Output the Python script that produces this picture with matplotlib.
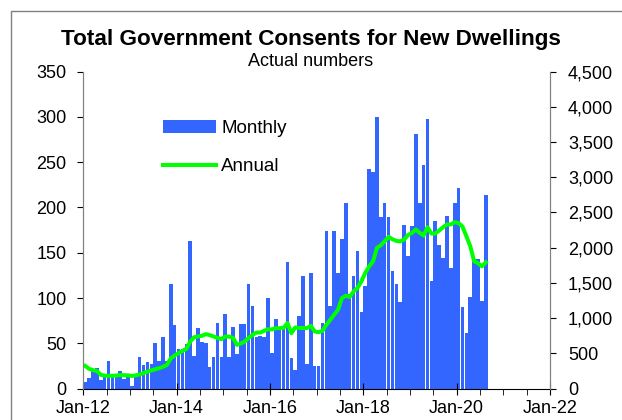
import numpy as np
import matplotlib
matplotlib.use("Agg")
import matplotlib.pyplot as plt
from matplotlib.patches import Rectangle
from matplotlib.ticker import FuncFormatter, MultipleLocator


# ── Data ─────────────────────────────────────────────────────────────────────
# monthly consents, Jan-12 .. Aug-20 (left axis)
monthly = [
    7, 12, 20, 23, 10, 14, 30, 14, 15, 19, 11, 15,
    3, 13, 35, 26, 29, 27, 50, 30, 57, 30, 115, 70,
    44, 44, 49, 163, 36, 67, 51, 50, 24, 35, 72, 35,
    82, 35, 68, 38, 71, 71, 115, 91, 57, 58, 57, 100,
    39, 77, 65, 66, 140, 34, 20, 80, 124, 27, 128, 25,
    25, 72, 174, 91, 174, 128, 165, 205, 104, 124, 152, 85,
    113, 242, 239, 300, 190, 205, 190, 130, 115, 96, 181, 146,
    180, 281, 205, 247, 298, 119, 185, 158, 144, 191, 133, 205,
    221, 90, 61, 101, 143, 143, 97, 214,
]

# annual (rolling 12 month) total, right axis
annual = [
    322, 280, 262, 250, 195, 185, 180, 182, 185, 192, 190, 188,
    180, 188, 200, 220, 240, 258, 275, 290, 310, 336, 430, 470,
    503, 535, 564, 668, 730, 740, 749, 773, 760, 739, 720, 702,
    740, 739, 720, 621, 640, 668, 720, 760, 796, 796, 820, 844,
    840, 858, 858, 862, 930, 787, 868, 860, 860, 860, 891, 811,
    800, 820, 906, 977, 1050, 1119, 1286, 1319, 1300, 1380, 1428, 1523,
    1642, 1736, 1807, 1998, 2035, 2092, 2154, 2120, 2097, 2090, 2116, 2180,
    2211, 2258, 2211, 2173, 2291, 2201, 2201, 2244, 2290, 2330, 2330, 2363,
    2350, 2300, 2163, 2021, 1807, 1780, 1736, 1793,
]

x_tick_labels = ["Jan-12", "Jan-14", "Jan-16", "Jan-18", "Jan-20", "Jan-22"]

BAR_COLOR = "#3366ff"
LINE_COLOR = "#00ff00"
FONT = ["Liberation Sans", "DejaVu Sans"]


# ── Plot ─────────────────────────────────────────────────────────────────────
def main() -> None:
    plt.rcParams["font.family"] = FONT

    fig = plt.figure(figsize=(6.22, 4.20), dpi=100)
    ax = fig.add_axes([83.3 / 622, 31.4 / 420, (550 - 83.3) / 622, (388.6 - 71.6) / 420])
    ax2 = ax.twinx()

    # outer frame of the chart object
    fig.patches.append(Rectangle((11 / 622, -0.5), 2.0, 1.5 - 11 / 420,
                                 transform=fig.transFigure, fill=False,
                                 edgecolor="#808080", linewidth=1.0))

    pos = np.arange(len(monthly)) + 0.5
    bars = ax.bar(pos, monthly, width=0.92, color=BAR_COLOR, linewidth=0,
                  label="Monthly")
    line, = ax2.plot(pos, annual, color=LINE_COLOR, linewidth=2.9,
                     label="Annual", solid_joinstyle="round")

    # left axis
    ax.set_xlim(0, 120)
    ax.set_ylim(0, 350)
    ax.yaxis.set_major_locator(MultipleLocator(50))
    ax.tick_params(axis="y", direction="out", length=4, labelsize=13, pad=8)

    # right axis
    ax2.set_ylim(0, 4500)
    ax2.yaxis.set_major_locator(MultipleLocator(500))
    ax2.yaxis.set_major_formatter(FuncFormatter(lambda v, p: f"{int(v):,}"))
    ax2.tick_params(axis="y", direction="out", length=4, labelsize=13, pad=9)

    # x axis: labelled every 2 years, minor ticks every 6 months
    ax.set_xticks(np.arange(0, 121, 24))
    ax.set_xticklabels(x_tick_labels)
    ax.set_xticks(np.arange(0, 121, 6), minor=True)
    ax.tick_params(axis="x", which="major", direction="inout", length=9,
                   labelsize=13, pad=4)
    ax.tick_params(axis="x", which="minor", direction="out", length=4)

    for a in (ax, ax2):
        a.spines["top"].set_visible(False)
        for s in ("left", "right", "bottom"):
            a.spines[s].set_color("#808080" if s != "bottom" else "black")
    ax2.spines["bottom"].set_visible(False)

    fig.text(0.5, 1 - 40 / 420, "Total Government Consents for New Dwellings",
             ha="center", va="center", fontsize=16.2, fontweight="bold")
    fig.text(0.5, 1 - 62 / 420, "Actual numbers", ha="center", va="center",
             fontsize=13)

    ax2.legend([bars, line], ["Monthly", "Annual"], loc="upper left",
               bbox_to_anchor=(163 / 622, 1 - 120 / 420),
               bbox_transform=fig.transFigure, frameon=False, fontsize=13.5,
               handlelength=2.8, handleheight=0.7, labelspacing=1.12,
               handletextpad=0.3, borderpad=0, borderaxespad=0)

    fig.savefig("out.png", dpi=100)
    plt.close(fig)


if __name__ == "__main__":
    main()
